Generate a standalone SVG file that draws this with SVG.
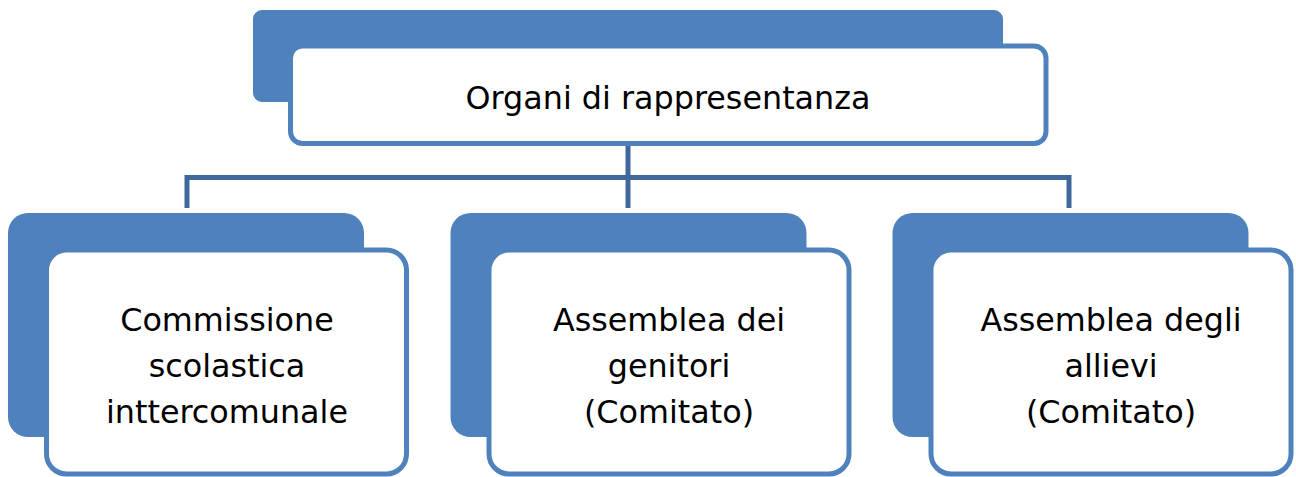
<svg xmlns="http://www.w3.org/2000/svg" width="1296" height="477" viewBox="0 0 1296 477">
<style>
.back{fill:#4f81bd;}
.front{fill:#ffffff;stroke:#4f81bd;stroke-width:5;}
.lbl{font-family:"DejaVu Sans",Verdana,sans-serif;font-size:31.8px;fill:#000;text-anchor:middle;}
.conn{fill:none;stroke:#41689a;stroke-width:5;}
</style>
<rect width="1296" height="477" fill="#ffffff"/>
<g id="connectors">
<path class="conn" d="M628 146 V208"/>
<path class="conn" d="M187 208 V177.5 H1069 V208"/>
</g>
<g id="node-top">
<rect class="back" x="253" y="10" width="750" height="92" rx="9"/>
<rect class="front" x="290.5" y="46" width="755.5" height="97.5" rx="12"/>
<text class="lbl" x="668" y="109">Organi di rappresentanza</text>
</g>
<g id="node-1">
<rect class="back" x="8" y="213" width="356" height="224" rx="20"/>
<rect class="front" x="46.5" y="250" width="360" height="224" rx="20"/>
<text class="lbl" x="227" y="331">Commissione</text>
<text class="lbl" x="227" y="377">scolastica</text>
<text class="lbl" x="227" y="423">inttercomunale</text>
</g>
<g id="node-2">
<rect class="back" x="450.5" y="213" width="356" height="224" rx="20"/>
<rect class="front" x="489" y="250" width="360" height="224" rx="20"/>
<text class="lbl" x="669" y="331">Assemblea dei</text>
<text class="lbl" x="669" y="377">genitori</text>
<text class="lbl" x="669" y="423">(Comitato)</text>
</g>
<g id="node-3">
<rect class="back" x="892.5" y="213" width="356" height="224" rx="20"/>
<rect class="front" x="931" y="250" width="360" height="224" rx="20"/>
<text class="lbl" x="1111" y="331">Assemblea degli</text>
<text class="lbl" x="1111" y="377">allievi</text>
<text class="lbl" x="1111" y="423">(Comitato)</text>
</g>
</svg>
